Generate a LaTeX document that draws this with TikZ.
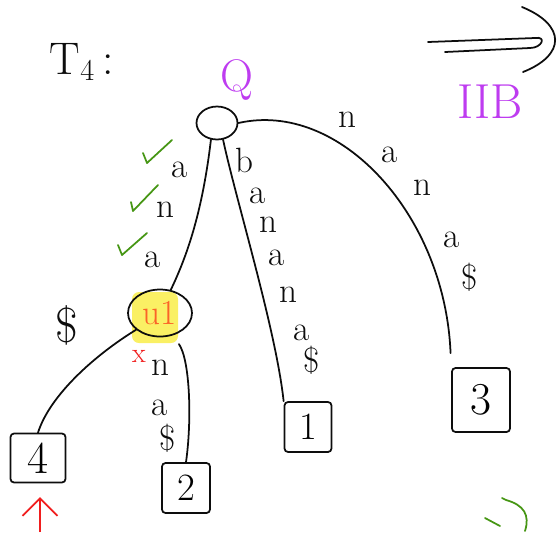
\documentclass[tikz,border=0pt]{standalone}
\usepackage{tikz}
\usetikzlibrary{shapes.geometric, arrows.meta, positioning}
\definecolor{inkBlack}{gray}{0.05}
\definecolor{tickGreen}{RGB}{70,150,20}
\definecolor{notePurple}{RGB}{190,60,240}
\definecolor{markRed}{RGB}{240,30,30}
\definecolor{labelOrange}{RGB}{250,100,40}
\definecolor{hiYellow}{RGB}{250,240,100}

\begin{document}
\begin{tikzpicture}[x=0.02cm, y=-0.02cm, >=Stealth,
    ink/.style={line width=1pt, inkBlack, line cap=round, line join=round},
    inner/.style={ellipse, draw=inkBlack, line width=1pt, inner sep=0pt},
    leaf/.style={rectangle, draw=inkBlack, line width=1pt, rounded corners=2pt,
      inner sep=0pt, font=\fontsize{26}{28}\selectfont},
    lbl/.style={inkBlack, inner sep=0pt, font=\fontsize{20}{22}\selectfont},
    tick/.style={tickGreen, line width=1pt, line cap=round, line join=round}]
    \useasboundingbox (0,0) rectangle (560,532);

    % Title and notes
    \node[inkBlack, font=\fontsize{26}{28}\selectfont] (title) at (82,62) {T$_4$\,:};
    \node[notePurple, font=\fontsize{26}{28}\selectfont] (q) at (237,80) {Q};
    \node[notePurple, font=\fontsize{28}{30}\selectfont] (part) at (490,102) {IIB};
    \draw[ink] (428,42) -- (535,38) .. controls (547,36) and (542,48) .. (530,48) -- (445,52);
    \draw[ink] (522,7) .. controls (566,25) and (566,55) .. (523,72);

    % Nodes
    \fill[hiYellow, rounded corners=4pt] (132,292) rectangle (178,343);
    \node[inner, minimum width=0.82cm, minimum height=0.66cm] (root) at (217,123) {};
    \node[inner, minimum width=1.28cm, minimum height=0.94cm,
      font=\fontsize{20}{22}\selectfont, text=labelOrange] (u1) at (160,313) {u1};
    \node[leaf, minimum width=1.1cm, minimum height=0.98cm] (l4) at (38,458) {4};
    \node[leaf, minimum width=0.96cm, minimum height=1.0cm, font=\fontsize{22}{24}\selectfont] (l2) at (186,488) {2};
    \node[leaf, minimum width=0.94cm, minimum height=1.0cm, font=\fontsize{22}{24}\selectfont] (l1) at (308,427) {1};
    \node[leaf, minimum width=1.16cm, minimum height=1.28cm] (l3) at (481,400) {3};

    % Edges
    \draw[ink] (root.250) .. controls (202,215) and (186,258) .. (u1.65);
    \draw[ink] (root.290) .. controls (236,200) and (276,330) .. (l1.north west);
    \draw[ink, shorten >=8pt] (root.east) .. controls (340,100) and (445,215) .. (l3.north west);
    \draw[ink] (u1.215) .. controls (95,355) and (50,395) .. (l4.north);
    \draw[ink, shorten <=6pt] (u1.300) .. controls (190,360) and (192,420) .. (l2.north);

    % Edge labels
    \node[lbl] (ua1) at (180,170) {a};
    \node[lbl] (un1) at (165,210) {n};
    \node[lbl] (ua2) at (153,260) {a};
    \node[lbl] (bb) at (244,160) {b};
    \node[lbl] (ba1) at (258,196) {a};
    \node[lbl] (bn1) at (268,225) {n};
    \node[lbl] (ba2) at (277,258) {a};
    \node[lbl] (bn2) at (288,295) {n};
    \node[lbl] (ba3) at (302,333) {a};
    \node[lbl] (bd) at (312,360) {\$};
    \node[lbl] (nn1) at (347,120) {n};
    \node[lbl] (na1) at (390,155) {a};
    \node[lbl] (nn2) at (422,188) {n};
    \node[lbl] (na2) at (452,240) {a};
    \node[lbl] (nd) at (470,277) {\$};
    \node[lbl, font=\fontsize{28}{30}\selectfont] (dd) at (67,325) {\$};
    \node[lbl] (sn) at (160,368) {n};
    \node[lbl] (sa) at (160,408) {a};
    \node[lbl] (sd) at (168,438) {\$};

    % Marks
    \draw[tick] (143,153) -- (147,163) -- (172,140);
    \draw[tick] (131,202) -- (133,211) -- (158,185);
    \draw[tick] (118,245) -- (122,255) -- (147,233);
    \node[markRed, inner sep=0pt, font=\fontsize{16}{18}\selectfont] (cross) at (139,356) {x};
    \coordinate (arrowtail) at (40,532);
    \draw[markRed, line width=1pt, -{Straight Barb[length=3.5mm, width=7mm]}] (arrowtail) -- (40,497);
    \draw[tick] (485,518) -- (500,526);
    \draw[tick] (502,498) -- (506,500) .. controls (524,505) and (530,515) .. (525,531);
\end{tikzpicture}
\end{document}
